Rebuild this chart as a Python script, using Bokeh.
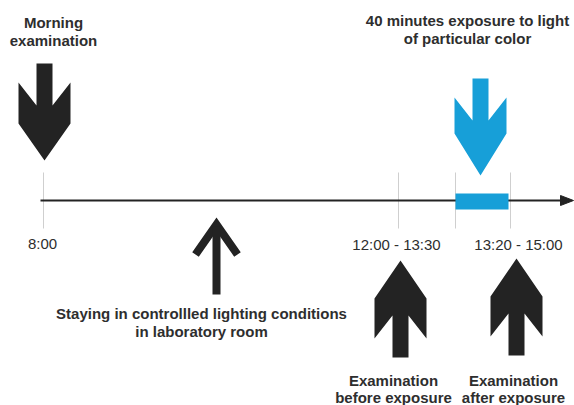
from bokeh.plotting import figure
from bokeh.models import Range1d
from bokeh.core.properties import value
from bokeh.embed import file_html
from bokeh.resources import INLINE

# ---- diagram content ----
time_labels = ["8:00", "12:00 - 13:30", "13:20 - 15:00"]
top_captions = ["Morning\nexamination", "40 minutes exposure to light\nof particular color"]
mid_caption = ["Staying in controllled lighting conditions\nin laboratory room"]
bottom_captions = ["Examination\nbefore exposure", "Examination\nafter exposure"]

# ---- layout (picture pixel coordinates) ----
W, H = 574, 405
p = figure(width=W, height=H, output_backend="svg", toolbar_location=None,
           x_range=Range1d(0, W), y_range=Range1d(H, 0),
           min_border=0, outline_line_color=None)
p.axis.visible = False
p.grid.visible = False
p.background_fill_color = "white"
p.border_fill_color = "white"

DARK = "#232323"
TXT = "#2e2e2e"
BLUE = "#179fd8"
FONT = value("Liberation Sans")

# grey tick marks
tick_x = [43, 398, 455, 510]
p.segment(x0=tick_x, y0=[172] * 4, x1=tick_x, y1=[228] * 4, line_color="#cfcfcf", line_width=1)

# timeline
p.segment(x0=[40], y0=[200], x1=[562], y1=[200], line_color=DARK, line_width=2)
p.patch(x=[560, 573, 560], y=[195, 200, 205], fill_color=DARK, line_color=DARK)

# blue exposure bar
p.quad(left=[455], right=[508], top=[193], bottom=[209], fill_color=BLUE, line_color=None)


def down_arrow(cx, top, barb, join, side_end, tip, hs=8, hb=26):
    xs = [cx - hs, cx + hs, cx + hs, cx + hb, cx + hb, cx, cx - hb, cx - hb, cx - hs]
    ys = [top, top, join, barb, side_end, tip, side_end, barb, join]
    return xs, ys


def up_arrow(cx, bottom, barb, join, side_end, tip, hs=8, hb=26):
    return down_arrow(cx, bottom, barb, join, side_end, tip, hs, hb)


mx, my = down_arrow(44, 63, 82, 105, 123, 160)
bx, by = down_arrow(480, 78, 97, 120, 133, 175)
u1x, u1y = up_arrow(400, 357, 338, 315, 298, 260)
u2x, u2y = up_arrow(516, 355, 336, 313, 296, 258)

p.patches(xs=[mx, u1x, u2x], ys=[my, u1y, u2y], fill_color=DARK, line_color=None)
p.patch(x=bx, y=by, fill_color=BLUE, line_color=None)

# thin line arrow (middle)
p.line(x=[195, 216, 237], y=[254, 224, 254], line_color=DARK, line_width=8,
       line_join="miter", line_cap="butt")
p.segment(x0=[216], y0=[226], x1=[216], y1=[294], line_color=DARK, line_width=8)

# texts
p.text(x=[53, 467], y=[31, 29], text=top_captions, text_font=FONT, text_font_size="15px",
       text_font_style="bold", text_color=TXT, text_align="center", text_baseline="middle",
       text_line_height=1.1)
p.text(x=[42, 396, 518], y=[243, 244, 244], text=time_labels, text_font=FONT,
       text_font_size="15px", text_color=TXT, text_align="center", text_baseline="middle")
p.text(x=[201], y=[322], text=mid_caption, text_font=FONT, text_font_size="15px",
       text_font_style="bold", text_color=TXT, text_align="center", text_baseline="middle",
       text_line_height=1.1)
p.text(x=[393, 513], y=[388, 388], text=bottom_captions, text_font=FONT, text_font_size="15px",
       text_font_style="bold", text_color=TXT, text_align="center", text_baseline="middle",
       text_line_height=1.0)

open("out.html", "w").write(file_html(p, INLINE))
